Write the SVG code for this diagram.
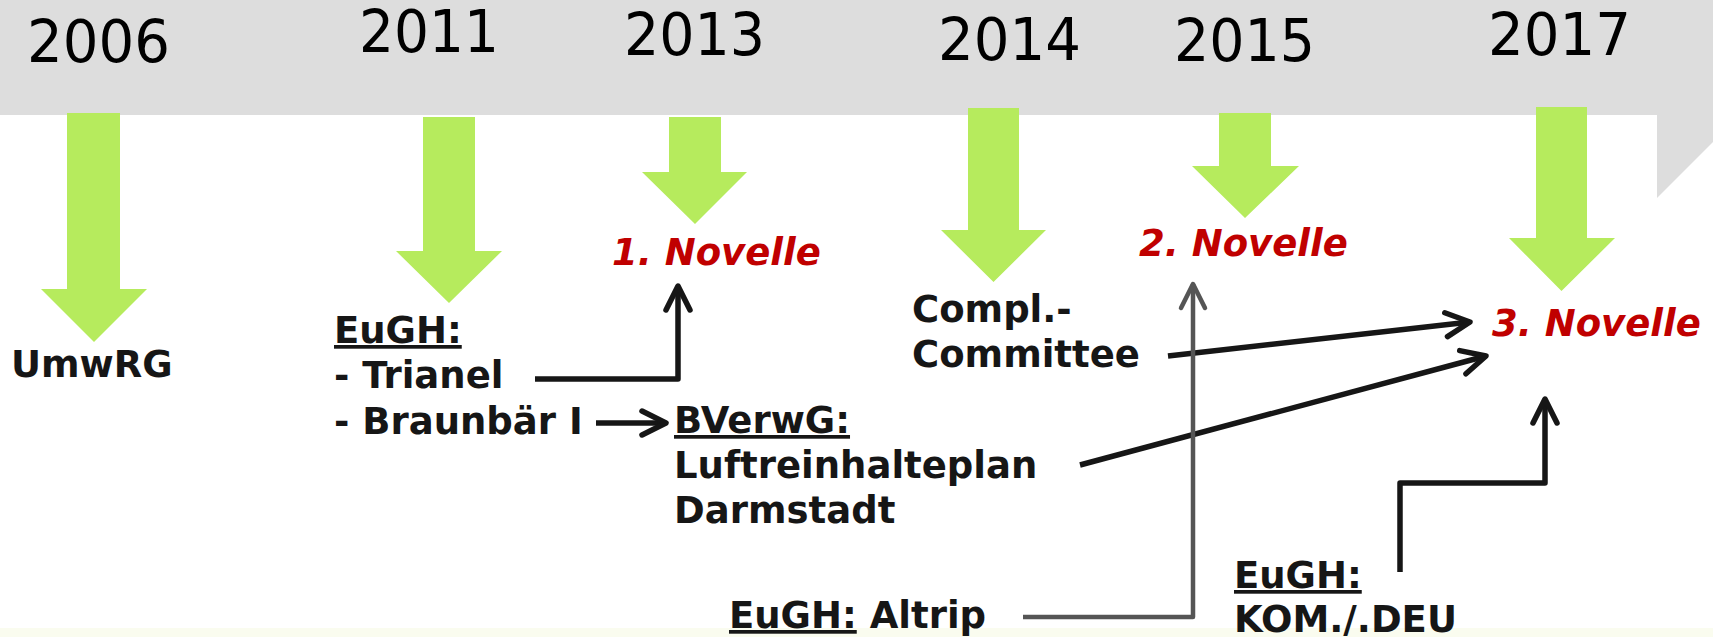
<svg xmlns="http://www.w3.org/2000/svg" width="1713" height="637" viewBox="0 0 1713 637">
  <style>
    .year { font-family: "DejaVu Sans", Verdana, sans-serif; font-size: 58px; fill: #000; }
    .lbl { font-family: "DejaVu Sans", Verdana, sans-serif; font-size: 37px; font-weight: bold; fill: #161616; }
    .nov { font-family: "DejaVu Sans", Verdana, sans-serif; font-size: 37px; font-weight: bold; font-style: italic; fill: #C00000; }
    .ul { text-decoration: underline; }
    .green { fill: #B6EB5D; }
    .con { fill: none; stroke: #161616; stroke-width: 5.5; stroke-linejoin: round; }
    .con-gray { fill: none; stroke: #555555; stroke-width: 4.5; stroke-linejoin: round; }
  </style>
  <defs>
    <marker id="ah" markerUnits="userSpaceOnUse" viewBox="-30 -16 34 32" refX="0" refY="0" markerWidth="34" markerHeight="32" orient="auto" overflow="visible">
      <path d="M-24,-12 L0,0 L-24,12" fill="none" stroke="#161616" stroke-width="5.5" stroke-linecap="round" stroke-linejoin="round"/>
    </marker>
    <marker id="ahg" markerUnits="userSpaceOnUse" viewBox="-30 -16 34 32" refX="0" refY="0" markerWidth="34" markerHeight="32" orient="auto" overflow="visible">
      <path d="M-24,-12 L0,0 L-24,12" fill="none" stroke="#555555" stroke-width="4.5" stroke-linecap="round" stroke-linejoin="round"/>
    </marker>
  </defs>

  <rect x="0" y="0" width="1713" height="637" fill="#FFFFFF"/>
  <rect x="0" y="628" width="1713" height="9" fill="#FAFCEF"/>

  <g id="timeline">
    <polygon points="0,0 1713,0 1713,142 1657,198 1657,115 0,115" fill="#DDDDDD"/>
  </g>

  <g id="y2006">
    <text class="year" x="27" y="62" textLength="143" lengthAdjust="spacingAndGlyphs">2006</text>
    <polygon class="green" points="67,113 120,113 120,289 147,289 94,342 41,289 67,289"/>
  </g>
  <g id="y2011">
    <text class="year" x="359" y="52" textLength="140" lengthAdjust="spacingAndGlyphs">2011</text>
    <polygon class="green" points="423,117 475,117 475,251 502,251 449,303 396,251 423,251"/>
  </g>
  <g id="y2013">
    <text class="year" x="624" y="55" textLength="141" lengthAdjust="spacingAndGlyphs">2013</text>
    <polygon class="green" points="669,117 721,117 721,172 747,172 695,224 642,172 669,172"/>
  </g>
  <g id="y2014">
    <text class="year" x="938" y="60" textLength="143" lengthAdjust="spacingAndGlyphs">2014</text>
    <polygon class="green" points="968,108 1019,108 1019,230 1046,230 993.5,282 941,230 968,230"/>
  </g>
  <g id="y2015">
    <text class="year" x="1174" y="61" textLength="141" lengthAdjust="spacingAndGlyphs">2015</text>
    <polygon class="green" points="1219,113 1271,113 1271,166 1299,166 1245,218 1192,166 1219,166"/>
  </g>
  <g id="y2017">
    <text class="year" x="1488" y="55" textLength="143" lengthAdjust="spacingAndGlyphs">2017</text>
    <polygon class="green" points="1536,107 1587,107 1587,238 1615,238 1561.5,291 1509,238 1536,238"/>
  </g>

  <g id="umwrg">
    <text class="lbl" x="11" y="377">UmwRG</text>
  </g>
  <g id="eugh-trianel">
    <text class="lbl ul" x="334" y="343">EuGH:</text>
    <text class="lbl" x="334" y="388">- Trianel</text>
    <text class="lbl" x="334" y="434">- Braunbär I</text>
  </g>
  <g id="bverwg">
    <text class="lbl ul" x="674" y="433">BVerwG:</text>
    <text class="lbl" x="674" y="478">Luftreinhalteplan</text>
    <text class="lbl" x="674" y="523">Darmstadt</text>
  </g>
  <g id="novelle1">
    <text class="nov" x="612" y="265">1. Novelle</text>
  </g>
  <g id="compl">
    <text class="lbl" x="912" y="322">Compl.-</text>
    <text class="lbl" x="912" y="367">Committee</text>
  </g>
  <g id="novelle2">
    <text class="nov" x="1139" y="256">2. Novelle</text>
  </g>
  <g id="novelle3">
    <text class="nov" x="1492" y="336">3. Novelle</text>
  </g>
  <g id="altrip">
    <text class="lbl" x="729" y="628"><tspan class="ul">EuGH:</tspan> Altrip</text>
  </g>
  <g id="kom">
    <text class="lbl ul" x="1234" y="588">EuGH:</text>
    <text class="lbl" x="1234" y="632">KOM./.DEU</text>
  </g>

  <g id="connectors">
    <path class="con" d="M535,379 H678 V286" marker-end="url(#ah)"/>
    <path class="con" d="M596,423 H666" marker-end="url(#ah)"/>
    <path class="con" d="M1168,356 L1470,322" marker-end="url(#ah)"/>
    <path class="con" d="M1080,465 L1486,356" marker-end="url(#ah)"/>
    <path class="con-gray" d="M1023,617 H1193 V284" marker-end="url(#ahg)"/>
    <path class="con" d="M1400,572 V483 H1545 V399" marker-end="url(#ah)"/>
  </g>
</svg>
